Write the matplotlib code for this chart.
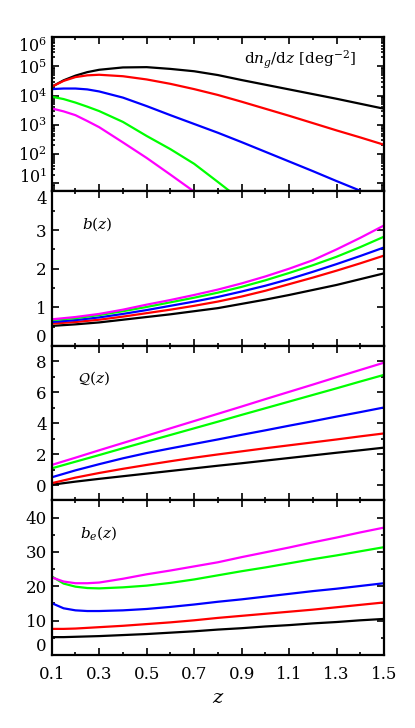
import numpy as np
import matplotlib
matplotlib.use('Agg')
import matplotlib.pyplot as plt
from matplotlib.ticker import FixedLocator, MultipleLocator, LogLocator, NullFormatter

plt.rcParams['font.family'] = 'DejaVu Serif'
plt.rcParams['mathtext.fontset'] = 'dejavuserif'

colors = ['black', '#ff0000', '#0000ff', '#00ff00', '#ff00ff']

# dn_g/dz, log10 values
z_n = [0.1, 0.15, 0.2, 0.25, 0.3, 0.4, 0.5, 0.6, 0.7, 0.8, 0.9, 1.0, 1.1, 1.2, 1.3, 1.4, 1.5]
logn_black = [4.30, 4.52, 4.68, 4.80, 4.88, 4.96, 4.97, 4.91, 4.83, 4.70, 4.53, 4.37, 4.21, 4.05, 3.89, 3.72, 3.55]
logn_red = [4.30, 4.50, 4.63, 4.69, 4.71, 4.66, 4.55, 4.40, 4.22, 4.02, 3.79, 3.55, 3.31, 3.06, 2.81, 2.57, 2.32]
logn_blue = [4.22, 4.24, 4.24, 4.21, 4.14, 3.93, 3.64, 3.33, 3.03, 2.73, 2.41, 2.08, 1.75, 1.42, 1.08, 0.75, 0.42]
logn_green = [3.96, 3.88, 3.76, 3.62, 3.47, 3.10, 2.62, 2.17, 1.67, 1.05, 0.42]
logn_magenta = [3.56, 3.46, 3.33, 3.13, 2.92, 2.40, 1.87, 1.30, 0.72, 0.13]

# b(z) and Q(z)
z_b = [0.1, 0.2, 0.3, 0.4, 0.5, 0.6, 0.7, 0.8, 0.9, 1.0, 1.1, 1.2, 1.3, 1.4, 1.5]
b_black = [0.52, 0.56, 0.61, 0.68, 0.75, 0.82, 0.90, 0.98, 1.09, 1.20, 1.32, 1.45, 1.58, 1.73, 1.88]
b_red = [0.58, 0.62, 0.68, 0.76, 0.85, 0.94, 1.04, 1.15, 1.28, 1.43, 1.60, 1.77, 1.95, 2.14, 2.34]
b_blue = [0.62, 0.67, 0.74, 0.83, 0.93, 1.04, 1.15, 1.27, 1.41, 1.56, 1.73, 1.92, 2.12, 2.33, 2.55]
b_green = [0.67, 0.72, 0.80, 0.90, 1.01, 1.13, 1.25, 1.38, 1.53, 1.70, 1.89, 2.09, 2.31, 2.56, 2.83]
b_magenta = [0.69, 0.75, 0.83, 0.94, 1.07, 1.19, 1.32, 1.46, 1.62, 1.80, 2.00, 2.22, 2.50, 2.80, 3.12]

q_black = [0.02, 0.22, 0.40, 0.57, 0.74, 0.91, 1.08, 1.25, 1.41, 1.58, 1.75, 1.92, 2.09, 2.25, 2.42]
q_red = [0.12, 0.48, 0.78, 1.05, 1.30, 1.54, 1.77, 1.98, 2.18, 2.38, 2.57, 2.76, 2.95, 3.15, 3.34]
q_blue = [0.50, 0.95, 1.35, 1.73, 2.07, 2.37, 2.66, 2.95, 3.25, 3.54, 3.84, 4.13, 4.43, 4.72, 5.02]
q_green = [1.08, 1.51, 1.94, 2.38, 2.81, 3.24, 3.67, 4.10, 4.54, 4.97, 5.40, 5.83, 6.26, 6.70, 7.13]
q_magenta = [1.30, 1.77, 2.25, 2.72, 3.19, 3.67, 4.14, 4.61, 5.08, 5.56, 6.03, 6.50, 6.98, 7.45, 7.92]

# b_e(z)
z_e = [0.1, 0.15, 0.2, 0.25, 0.3, 0.4, 0.5, 0.6, 0.7, 0.8, 0.9, 1.0, 1.1, 1.2, 1.3, 1.4, 1.5]
be_black = [5.2, 5.2, 5.3, 5.4, 5.5, 5.8, 6.1, 6.5, 6.9, 7.4, 7.8, 8.3, 8.7, 9.2, 9.6, 10.1, 10.5]
be_red = [7.6, 7.6, 7.7, 7.9, 8.1, 8.5, 9.0, 9.5, 10.1, 10.8, 11.4, 12.0, 12.6, 13.2, 13.9, 14.6, 15.3]
be_blue = [15.1, 13.6, 13.0, 12.8, 12.8, 13.0, 13.4, 14.0, 14.7, 15.5, 16.2, 17.0, 17.8, 18.6, 19.3, 20.1, 20.9]
be_green = [22.9, 20.8, 19.9, 19.5, 19.4, 19.7, 20.2, 21.0, 22.0, 23.2, 24.4, 25.5, 26.7, 27.9, 29.0, 30.2, 31.4]
be_magenta = [22.6, 21.4, 20.9, 20.9, 21.1, 22.2, 23.5, 24.6, 25.8, 27.0, 28.5, 29.9, 31.3, 32.8, 34.2, 35.7, 37.1]

fig, axes = plt.subplots(4, 1, figsize=(4.15, 7.28), dpi=100, sharex=True)
fig.subplots_adjust(left=0.1246, right=0.9253, top=0.9492, bottom=0.1003, hspace=0)
ax1, ax2, ax3, ax4 = axes

lw = 1.6
for vals, c in zip([logn_black, logn_red, logn_blue, logn_green, logn_magenta], colors):
    ax1.plot(z_n[:len(vals)], 10 ** np.array(vals), color=c, lw=lw)
for vals, c in zip([b_black, b_red, b_blue, b_green, b_magenta], colors):
    ax2.plot(z_b, vals, color=c, lw=lw)
for vals, c in zip([q_black, q_red, q_blue, q_green, q_magenta], colors):
    ax3.plot(z_b, vals, color=c, lw=lw)
for vals, c in zip([be_black, be_red, be_blue, be_green, be_magenta], colors):
    ax4.plot(z_e, vals, color=c, lw=lw)

ax1.set_yscale('log')
ax1.set_ylim(5.3, 1e6)
ax1.yaxis.set_major_locator(LogLocator(base=10, numticks=10))
ax1.yaxis.set_minor_locator(LogLocator(base=10, subs=np.arange(2, 10), numticks=20))
ax1.yaxis.set_minor_formatter(NullFormatter())

ax2.set_ylim(0, 4)
ax2.yaxis.set_major_locator(MultipleLocator(1))
ax2.yaxis.set_minor_locator(MultipleLocator(0.5))

ax3.set_ylim(-1, 9)
ax3.yaxis.set_major_locator(MultipleLocator(2))
ax3.yaxis.set_minor_locator(MultipleLocator(1))

ax4.set_ylim(0, 45)
ax4.yaxis.set_major_locator(MultipleLocator(10))
ax4.yaxis.set_minor_locator(MultipleLocator(5))

ax4.set_xlim(0.1, 1.5)
ax4.xaxis.set_major_locator(FixedLocator([0.1, 0.3, 0.5, 0.7, 0.9, 1.1, 1.3, 1.5]))
ax4.xaxis.set_minor_locator(MultipleLocator(0.1))
ax4.set_xticklabels(['0.1', '0.3', '0.5', '0.7', '0.9', '1.1', '1.3', '1.5'])
ax4.set_xlabel(r'$z$', fontsize=14, labelpad=4)

for ax in axes:
    ax.tick_params(which='both', direction='in', top=True, right=True, labelsize=12, width=1.2)
    ax.tick_params(which='major', length=5)
    ax.tick_params(which='minor', length=2.5)
    ax.tick_params(axis='x', pad=8)
    for s in ax.spines.values():
        s.set_linewidth(1.6)
ax1.tick_params(axis='y', which='major', labelsize=11.5)

fig.canvas.draw()
# keep edge labels inside their own panel
for t in ax2.get_yticklabels():
    if '4' in t.get_text():
        t.set_va('top')
    if '0' in t.get_text():
        t.set_va('bottom')
for t in ax4.get_yticklabels():
    if t.get_text().strip('$').replace(r'\mathdefault{', '').rstrip('}') == '0':
        t.set_va('bottom')
for t in ax1.get_yticklabels():
    if '6' in t.get_text():
        t.set_va('top')
    if '{1}' in t.get_text():
        t.set_va('baseline')

ax1.text(0.915, 0.85, r'$\mathrm{d}n_g/\mathrm{d}z\ [\mathrm{deg}^{-2}]$', transform=ax1.transAxes,
         ha='right', va='center', fontsize=11)
ax2.text(0.09, 0.79, r'$b(z)$', transform=ax2.transAxes, ha='left', va='center', fontsize=11)
ax3.text(0.08, 0.79, r'$\mathcal{Q}(z)$', transform=ax3.transAxes, ha='left', va='center', fontsize=11)
ax4.text(0.085, 0.79, r'$b_e(z)$', transform=ax4.transAxes, ha='left', va='center', fontsize=11)

fig.savefig('out.png', dpi=100)
